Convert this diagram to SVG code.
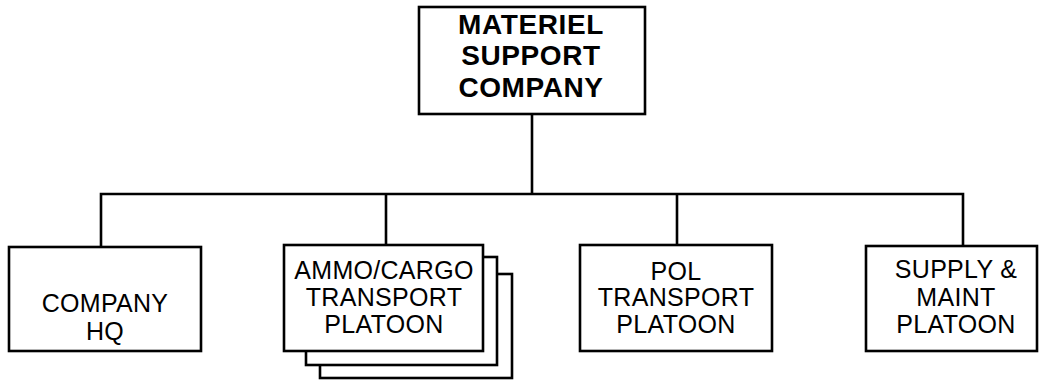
<svg xmlns="http://www.w3.org/2000/svg" width="1039" height="380" viewBox="0 0 1039 380">
<style>
.box{fill:#fff;stroke:#000;stroke-width:2.6}
.ln{fill:none;stroke:#000;stroke-width:2.6}
.t{font-family:"Liberation Sans",Arial,sans-serif;font-size:25px;letter-spacing:0.3px;text-anchor:middle;fill:#000}
.tb{font-family:"Liberation Sans",Arial,sans-serif;font-size:28px;font-weight:bold;letter-spacing:0.6px;text-anchor:middle;fill:#000}
</style>
<rect width="1039" height="380" fill="#fff"/>
<g id="connectors">
<path class="ln" d="M532 114V194M101 247V194H963V246M386 245V194M677 245V194"/>
</g>
<g id="materiel-support-company">
<rect class="box" x="419" y="7" width="226" height="107"/>
<text class="tb" x="531" y="34">MATERIEL</text>
<text class="tb" x="531" y="65">SUPPORT</text>
<text class="tb" x="531" y="97">COMPANY</text>
</g>
<g id="company-hq">
<rect class="box" x="9" y="247" width="192" height="104"/>
<text class="t" x="105" y="312">COMPANY</text>
<text class="t" x="105" y="340">HQ</text>
</g>
<g id="ammo-cargo-transport-platoon">
<rect class="box" x="320" y="274" width="192" height="104"/>
<rect class="box" x="306" y="257" width="191" height="108"/>
<rect class="box" x="284" y="245" width="199" height="106"/>
<text class="t" x="384" y="279">AMMO/CARGO</text>
<text class="t" x="384" y="306">TRANSPORT</text>
<text class="t" x="384" y="333">PLATOON</text>
</g>
<g id="pol-transport-platoon">
<rect class="box" x="580" y="245" width="192" height="106"/>
<text class="t" x="676" y="280">POL</text>
<text class="t" x="676" y="306">TRANSPORT</text>
<text class="t" x="676" y="333">PLATOON</text>
</g>
<g id="supply-maint-platoon">
<rect class="box" x="866" y="246" width="171" height="105"/>
<text class="t" x="956" y="278">SUPPLY &amp;</text>
<text class="t" x="956" y="306">MAINT</text>
<text class="t" x="956" y="333">PLATOON</text>
</g>
</svg>
